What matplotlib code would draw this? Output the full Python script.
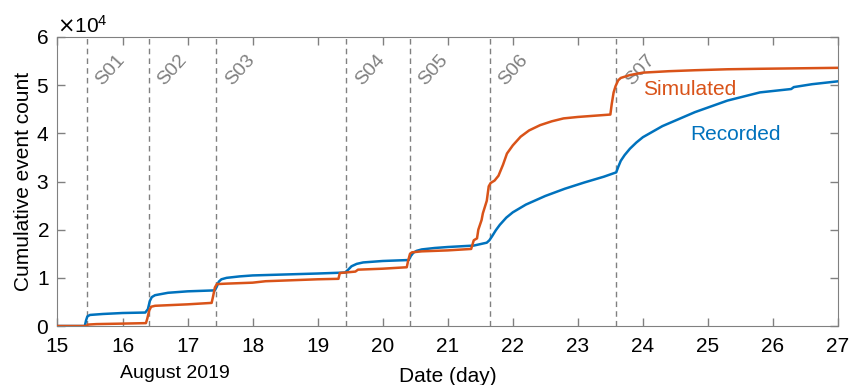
import matplotlib.pyplot as plt
from matplotlib.ticker import ScalarFormatter

plt.rcParams['font.family'] = ['Liberation Sans', 'DejaVu Sans']

# recorded catalogue (day of August 2019, cumulative count)
rec_day = [15.0, 15.42, 15.44, 15.46, 15.5, 15.7, 16.0, 16.35, 16.39, 16.42, 16.45, 16.5, 16.7,
           17.0, 17.42, 17.45, 17.48, 17.52, 17.6, 17.8, 18.0, 18.5, 19.0, 19.42, 19.47, 19.52,
           19.6, 19.7, 20.0, 20.4, 20.43, 20.47, 20.52, 20.6, 20.8, 21.0, 21.4, 21.6, 21.64, 21.68,
           21.74, 21.8, 21.9, 22.0, 22.2, 22.5, 22.8, 23.1, 23.4, 23.59, 23.62, 23.66, 23.72, 23.8,
           23.9, 24.0, 24.3, 24.8, 25.3, 25.8, 26.28, 26.32, 26.6, 27.0]
rec_val = [0, 0, 1200, 2000, 2300, 2500, 2700, 2800, 3500, 5200, 6000, 6400, 6900,
           7200, 7400, 8200, 9200, 9700, 10000, 10300, 10500, 10700, 10900, 11100, 11700, 12400,
           12900, 13200, 13500, 13700, 14500, 15200, 15600, 15900, 16200, 16400, 16700, 17300, 17800, 18600,
           19900, 21000, 22500, 23600, 25200, 27000, 28500, 29800, 31000, 31900, 33000, 34300, 35500, 36800,
           38100, 39200, 41500, 44400, 46800, 48500, 49200, 49600, 50200, 50800]

# simulated
sim_day = [15.0, 15.44, 15.47, 15.6, 16.0, 16.36, 16.38, 16.41, 16.44, 16.5, 17.0, 17.37, 17.39,
           17.42, 17.45, 17.6, 18.0, 18.2, 18.6, 19.0, 19.32, 19.34, 19.5, 19.58, 19.62, 20.0, 20.37,
           20.39, 20.42, 20.45, 20.6, 21.0, 21.36, 21.4, 21.45, 21.47, 21.52, 21.54, 21.6, 21.63,
           21.66, 21.72, 21.78, 21.85, 21.91, 22.0, 22.12, 22.25, 22.42, 22.6, 22.78, 23.0, 23.5,
           23.52, 23.55, 23.58, 23.62, 23.66, 23.8, 24.0, 24.4, 24.8, 25.3, 25.8, 26.4, 27.0]
sim_val = [0, 0, 300, 400, 500, 600, 1500, 3200, 4000, 4200, 4500, 4800, 6000,
           8000, 8700, 8800, 9000, 9300, 9500, 9700, 9800, 11000, 11200, 11300, 11700, 11900, 12200,
           13500, 15000, 15300, 15500, 15700, 16000, 17800, 18200, 20000, 22000, 23400, 26000, 29000,
           29700, 30200, 31200, 33500, 35800, 37500, 39300, 40600, 41700, 42500, 43100, 43400, 43900,
           46000, 48500, 49800, 51000, 51500, 52100, 52600, 52900, 53100, 53300, 53400, 53500, 53600]

seq_day = [15.45, 16.40, 17.44, 19.44, 20.42, 21.65, 23.59]
seq_names = ['S01', 'S02', 'S03', 'S04', 'S05', 'S06', 'S07']

fig = plt.figure(figsize=(8.54, 3.85), dpi=100)
ax = fig.add_axes([0.0673, 0.1532, 0.914, 0.7507])

for d, name in zip(seq_day, seq_names):
    ax.axvline(d, color='#808080', linestyle=(0, (4, 3)), linewidth=1.0, zorder=1)
    ax.text(d + 0.09, 49300, name, rotation=48, color='#808080', fontsize=14,
            ha='left', va='bottom')

ax.plot(rec_day, rec_val, color='#0072BD', linewidth=1.8, zorder=3)
ax.plot(sim_day, sim_val, color='#D95319', linewidth=1.8, zorder=3)

ax.text(24.0, 49000, 'Simulated', color='#D95319', fontsize=15, va='center', ha='left')
ax.text(24.73, 39800, 'Recorded', color='#0072BD', fontsize=15, va='center', ha='left')

ax.set_xlim(15, 27)
ax.set_ylim(0, 60000)
ax.set_xticks(range(15, 28))
ax.set_yticks(range(0, 60001, 10000))

fmt = ScalarFormatter(useMathText=True)
fmt.set_powerlimits((0, 0))
ax.yaxis.set_major_formatter(fmt)
ax.yaxis.get_offset_text().set_fontsize(15)

for s in ax.spines.values():
    s.set_color('#808080')
ax.tick_params(direction='in', length=5.5, width=1, color='#808080', labelsize=15,
               top=True, right=True, labelcolor='black')
ax.tick_params(axis='x', pad=8)
ax.tick_params(axis='y', pad=6)

ax.set_ylabel('Cumulative event count', fontsize=15, labelpad=2)
ax.set_xlabel('Date (day)', fontsize=15, labelpad=8)
fig.text(175 / 854, 1 - 373 / 385, 'August 2019', fontsize=14, ha='center', va='center')

fig.savefig('out.png', dpi=100)
